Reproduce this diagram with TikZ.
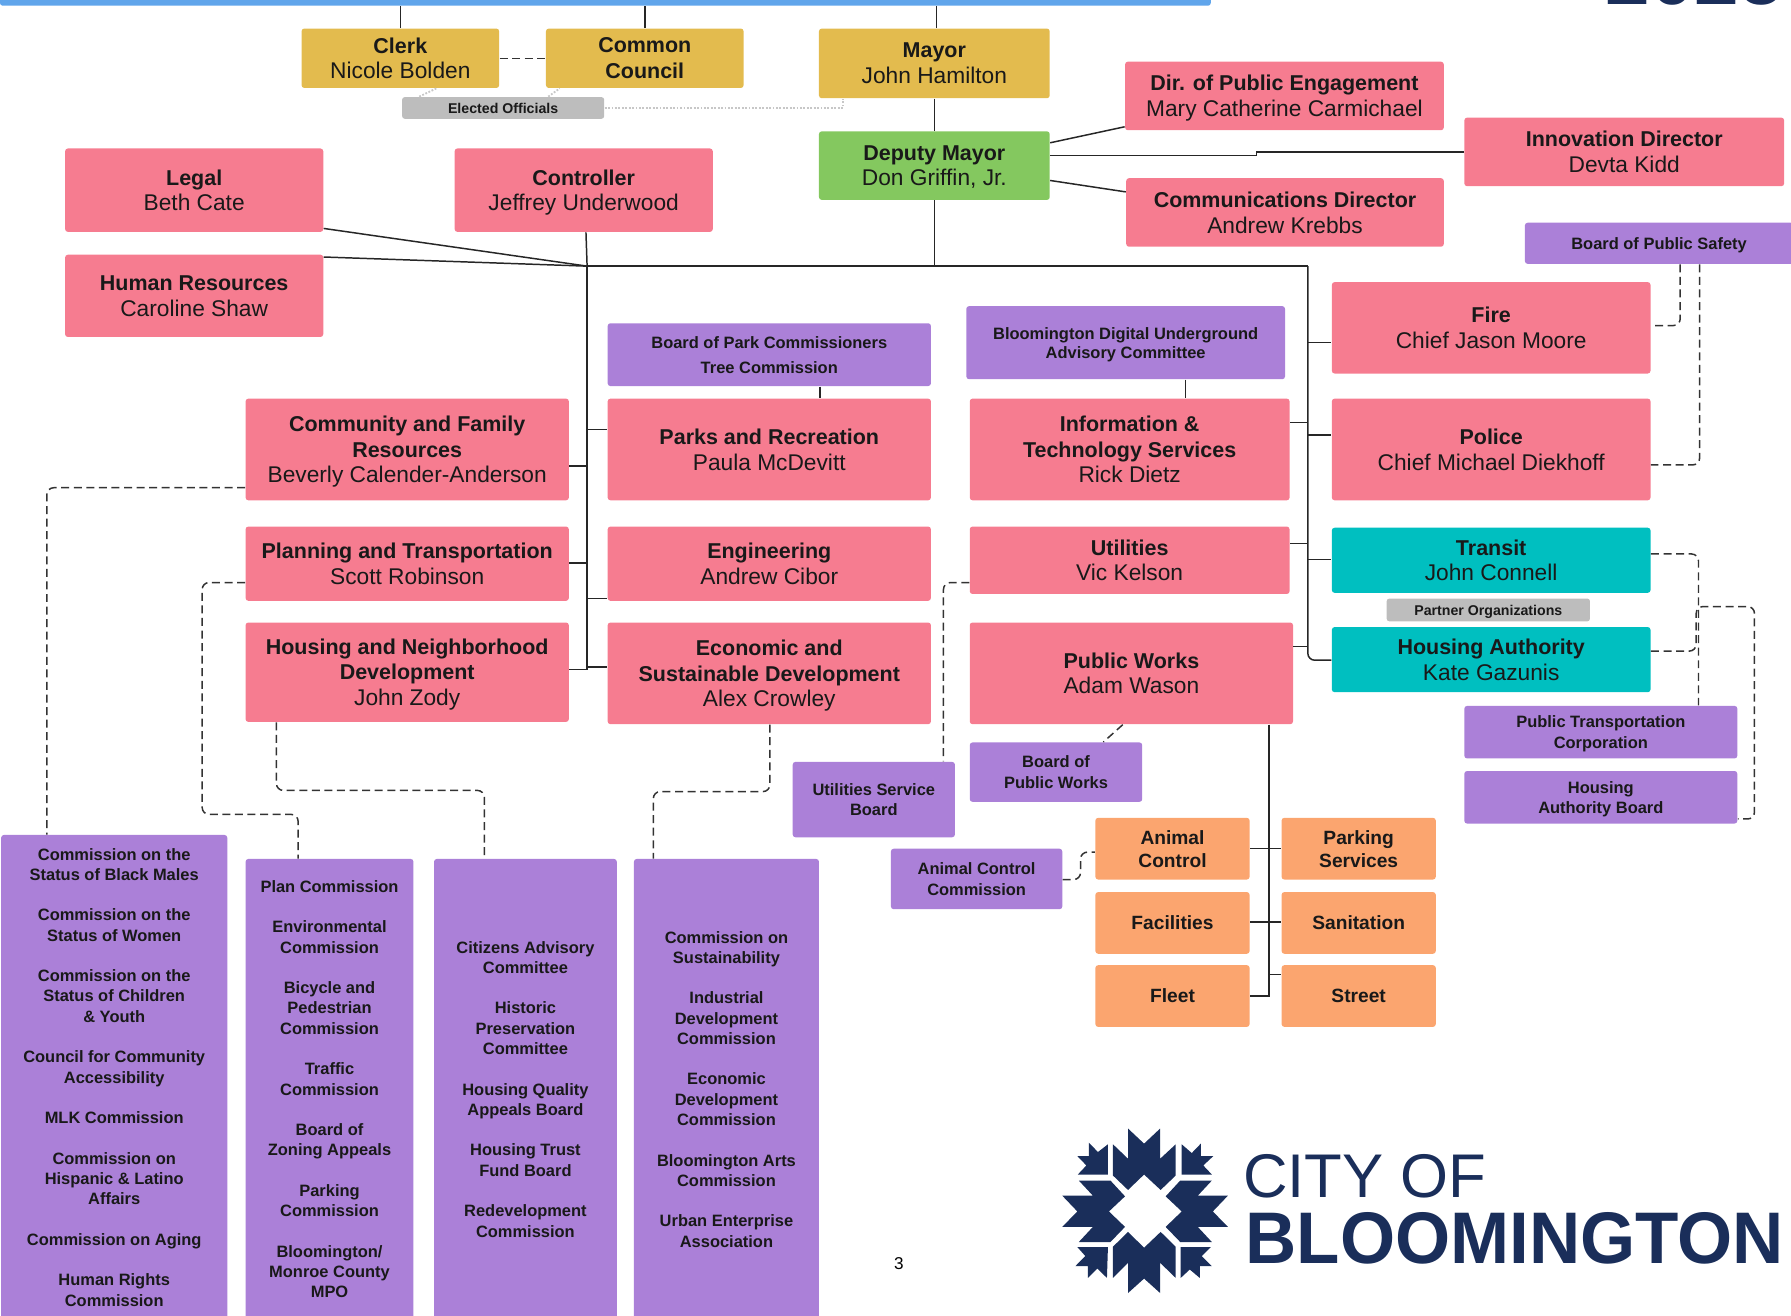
\documentclass[tikz,border=0pt]{standalone}
\usepackage{fontspec}
\setmainfont{Liberation Sans}
\definecolor{pinkb}{HTML}{F67C90}
\definecolor{goldb}{HTML}{E3BB4E}
\definecolor{greenb}{HTML}{84C85F}
\definecolor{purpb}{HTML}{AB80D8}
\definecolor{tealb}{HTML}{00BFC0}
\definecolor{orangeb}{HTML}{FBA56F}
\definecolor{grayb}{HTML}{BDBDBD}
\definecolor{blueb}{HTML}{60A5EB}
\definecolor{navyb}{HTML}{1A2E5A}
\newcommand\bx[7]{%
  \pgfmathsetmacro\bxw{(#5-#3)*0.5}%
  \pgfmathsetmacro\bxh{(#6-#4)*0.5}%
  \node[#2,minimum width=\bxw pt,minimum height=\bxh pt] (#1) at ({(#3+#5)/2},{(#4+#6)/2}) {#7};}
\newcommand\gp{\\[8.875pt]}
\newcommand\tb[1]{{\fontsize{9.4}{11.25}\selectfont\bfseries #1}}
\tikzset{
  basebox/.style={rounded corners=1.2pt,inner sep=0pt,align=center,text=black!90,text depth=0pt},
  main/.style={basebox,font=\fontsize{9.95}{11.25}\selectfont},
  pinkbox/.style={main,fill=pinkb},
  goldbox/.style={main,fill=goldb},
  greenbox/.style={main,fill=greenb},
  tealbox/.style={main,fill=tealb},
  purplebox/.style={basebox,fill=purpb,font=\fontsize{7.2}{8.875}\selectfont\bfseries},
  orangebox/.style={basebox,fill=orangeb,font=\fontsize{8.4}{10}\selectfont\bfseries},
  graybox/.style={basebox,fill=grayb,font=\fontsize{6.2}{7.5}\selectfont\bfseries},
  solidline/.style={draw=black!85,line width=0.65pt},
  dashline/.style={draw=black!80,line width=0.65pt,dash pattern=on 3.5pt off 2pt,rounded corners=3pt},
  dotline/.style={draw=black!22,line width=0.8pt,dash pattern=on 0.8pt off 0.7pt},
  logopart/.style={fill=navyb,draw=none},
}
\begin{document}
\begin{tikzpicture}[x=0.5pt,y=-0.5pt]
\useasboundingbox (0,0) rectangle (1568,1151.3);
\clip (0,0) rectangle (1568,1151.3);
% header remains
\node[anchor=base east,inner sep=0pt,text=navyb,font=\fontsize{35}{35}\selectfont\bfseries] (year) at (1562,4) {2025};
\bx{bar}{basebox,fill=blueb}{0}{-6}{1060}{5}{}
% elected
\bx{clerk}{goldbox}{264}{25}{437}{77}{\tb{Clerk}\\Nicole Bolden}
\bx{council}{goldbox}{478}{25}{651}{77}{\tb{Common}\\\tb{Council}}
\bx{mayor}{goldbox}{717}{25}{919}{86}{\tb{Mayor}\\John Hamilton}
\bx{elected}{graybox}{352}{85}{529}{104}{Elected Officials}
\bx{deputy}{greenbox}{717}{115}{919}{175}{\tb{Deputy Mayor}\\Don Griffin, Jr.}
% staff
\bx{dirpe}{pinkbox}{985}{54}{1264}{114}{\tb{Dir. of Public Engagement}\\Mary Catherine Carmichael}
\bx{innov}{pinkbox}{1282}{103}{1562}{163}{\tb{Innovation Director}\\Devta Kidd}
\bx{commdir}{pinkbox}{986}{156}{1264}{216}{\tb{Communications Director}\\Andrew Krebbs}
\bx{legal}{pinkbox}{57}{130}{283}{203}{\tb{Legal}\\Beth Cate}
\bx{controller}{pinkbox}{398}{130}{624}{203}{\tb{Controller}\\Jeffrey Underwood}
\bx{hr}{pinkbox}{57}{223}{283}{295}{\tb{Human Resources}\\Caroline Shaw}
\bx{bps}{purplebox}{1335}{195}{1570}{231}{Board of Public Safety}
\bx{fire}{pinkbox}{1166}{247}{1445}{327}{\tb{Fire}\\Chief Jason Moore}
\bx{police}{pinkbox}{1166}{349}{1445}{438}{\tb{Police}\\Chief Michael Diekhoff}
\bx{parkboard}{purplebox}{532}{283}{815}{338}{Board of Park Commissioners\\[2pt]Tree Commission}
\bx{bdu}{purplebox}{846}{268}{1125}{332}{Bloomington Digital Underground\\[-0.6pt]Advisory Committee}
\bx{cfr}{pinkbox}{215}{349}{498}{438}{\tb{Community and Family}\\\tb{Resources}\\Beverly Calender-Anderson}
\bx{parks}{pinkbox}{532}{349}{815}{438}{\tb{Parks and Recreation}\\Paula McDevitt}
\bx{its}{pinkbox}{849}{349}{1129}{438}{\tb{Information \&}\\\tb{Technology Services}\\Rick Dietz}
\bx{planning}{pinkbox}{215}{461}{498}{526}{\tb{Planning and Transportation}\\Scott Robinson}
\bx{eng}{pinkbox}{532}{461}{815}{526}{\tb{Engineering}\\Andrew Cibor}
\bx{util}{pinkbox}{849}{461}{1129}{520}{\tb{Utilities}\\Vic Kelson}
\bx{transit}{tealbox}{1166}{462}{1445}{519}{\tb{Transit}\\John Connell}
\bx{partner}{graybox}{1214}{524}{1392}{544}{Partner Organizations}
\bx{ha}{tealbox}{1166}{549}{1445}{606}{\tb{Housing Authority}\\Kate Gazunis}
\bx{housing}{pinkbox}{215}{545}{498}{632}{\tb{Housing and Neighborhood}\\\tb{Development}\\John Zody}
\bx{econ}{pinkbox}{532}{545}{815}{634}{\tb{Economic and}\\\tb{Sustainable Development}\\Alex Crowley}
\bx{pw}{pinkbox}{849}{545}{1132}{634}{\tb{Public Works}\\Adam Wason}
\bx{ptc}{purplebox}{1282}{618}{1521}{664}{Public Transportation\\Corporation}
\bx{hab}{purplebox}{1282}{675}{1521}{721}{Housing\\Authority Board}
\bx{boardpw}{purplebox}{849}{650}{1000}{702}{Board of\\Public Works}
\bx{usb}{purplebox}{694}{667}{836}{733}{Utilities Service\\Board}
\bx{acc}{purplebox}{780}{743}{930}{796}{Animal Control\\Commission}
\bx{animal}{orangebox}{959}{716}{1094}{770}{Animal\\Control}
\bx{parking}{orangebox}{1122}{716}{1257}{770}{Parking\\Services}
\bx{facilities}{orangebox}{959}{781}{1094}{835}{Facilities}
\bx{sanitation}{orangebox}{1122}{781}{1257}{835}{Sanitation}
\bx{fleet}{orangebox}{959}{845}{1094}{899}{Fleet}
\bx{street}{orangebox}{1122}{845}{1257}{899}{Street}
% commission columns
\bx{col1}{purplebox}{1}{731}{199}{1155}{Commission on the\\Status of Black Males\gp Commission on the\\Status of Women\gp Commission on the\\Status of Children\\\& Youth\gp Council for Community\\Accessibility\gp MLK Commission\gp Commission on\\Hispanic \& Latino\\Affairs\gp Commission on Aging\gp Human Rights\\Commission}
\bx{col2}{purplebox}{215}{752}{362}{1155}{Plan Commission\gp Environmental\\Commission\gp Bicycle and\\Pedestrian\\Commission\gp Traffic\\Commission\gp Board of\\Zoning Appeals\gp Parking\\Commission\gp Bloomington/\\Monroe County\\MPO}
\bx{col3}{purplebox}{380}{752}{540}{1155}{Citizens Advisory\\Committee\gp Historic\\Preservation\\Committee\gp Housing Quality\\Appeals Board\gp Housing Trust\\Fund Board\gp Redevelopment\\Commission}
\bx{col4}{purplebox}{555}{752}{717}{1155}{Commission on\\Sustainability\gp Industrial\\Development\\Commission\gp Economic\\Development\\Commission\gp Bloomington Arts\\Commission\gp Urban Enterprise\\Association}
% junctions
\coordinate (busL) at (514,233);
\coordinate (busM) at (818,233);
\coordinate (busR) at (1145,233);
% top bar
\draw[solidline] (clerk.north) -- (clerk.north |- bar.south);
\draw[solidline] (council.north) -- (council.north |- bar.south);
\draw[solidline] (mayor.north -| 820,0) -- (bar.south -| 820,0);
\draw[dashline] (clerk.east) -- (council.west);
\draw[dotline] (elected.east) -- (738,94.5) -- (mayor.south -| 738,0);
\draw[dotline] (elected.north -| 367,0) -- (clerk.south -| 382,0);
\draw[dotline] (elected.north -| 480,0) -- (council.south -| 490,0);
% deputy
\draw[solidline] (mayor.south) -- (deputy.north);
\draw[solidline] (deputy.east |- 0,125) -- (dirpe.west |- 0,111);
\draw[solidline] (deputy.east |- 0,136) -- (1100,136) -- (1100,133) -- (innov.west |- 0,133);
\draw[solidline] (deputy.east |- 0,158) -- (commdir.west |- 0,168);
\draw[solidline] (deputy.south) -- (busM);
\draw[solidline] (busL) -- (busR);
\draw[solidline] (controller.south -| 513,0) -- (busL);
\draw[solidline] (legal.east |- 0,200) -- (busL);
\draw[solidline] (hr.east |- 0,225) -- (busL);
% left spine
\draw[solidline] (busL) -- (514,586);
\draw[solidline] (514,376) -- (parks.west |- 0,376);
\draw[solidline] (cfr.east |- 0,408) -- (514,408);
\draw[solidline] (planning.east |- 0,493) -- (514,493);
\draw[solidline] (514,524) -- (eng.west |- 0,524);
\draw[solidline] (housing.east |- 0,586) -- (514,586) -- (514,584) -- (econ.west |- 0,584);
% right spine
\draw[solidline,rounded corners=3pt] (busR) -- (1145,578) -- (ha.west |- 0,578);
\draw[solidline] (1145,300) -- (fire.west |- 0,300);
\draw[solidline] (its.east |- 0,370) -- (1145,370);
\draw[solidline] (1145,381) -- (police.west |- 0,381);
\draw[solidline] (util.east |- 0,476) -- (1145,476);
\draw[solidline] (1145,490) -- (transit.west |- 0,490);
\draw[solidline] (pw.east |- 0,566) -- (1145,566);
% advisory links
\draw[solidline] (parkboard.south -| 718,0) -- (parks.north -| 718,0);
\draw[solidline] (bdu.south -| 1038,0) -- (its.north -| 1038,0);
\draw[dashline] (bps.south -| 1471,0) -- (1471,285) -- (fire.east |- 0,285);
\draw[dashline] (bps.south -| 1488,0) -- (1488,407) -- (police.east |- 0,407);
\draw[dashline] (transit.east |- 0,485) -- (1487,485) -- (ptc.north -| 1487,0);
\draw[dashline] (ha.east |- 0,570) -- (1485,570) -- (1485,531) -- (1536,531) -- (1536,717) -- (hab.east |- 0,717);
\draw[dashline] (util.west |- 0,510) -- (826,510) -- (usb.north -| 826,0);
\draw[dashline] (pw.south -| 983,0) -- (boardpw.north -| 966,0);
\draw[dashline] (acc.east |- 0,770) -- (946,770) -- (946,746) -- (animal.west |- 0,746);
\draw[dashline] (cfr.west |- 0,427) -- (41,427) -- (col1.north -| 41,0);
\draw[dashline] (planning.west |- 0,510) -- (177,510) -- (177,713) -- (261,713) -- (col2.north -| 261,0);
\draw[dashline] (housing.south -| 242,0) -- (242,692) -- (424,692) -- (col3.north -| 424,0);
\draw[dashline] (econ.south -| 674,0) -- (674,693) -- (572,693) -- (col4.north -| 572,0);
% public works tree
\coordinate (pwEnd) at (1111,873);
\draw[solidline] (pw.south -| 1111,0) -- (pwEnd);
\draw[solidline] (animal.east |- 0,743) -- (parking.west |- 0,743);
\draw[solidline] (facilities.east |- 0,807) -- (1111,807);
\draw[solidline] (1111,807) -- (sanitation.west |- 0,807);
\draw[solidline] (fleet.east |- 0,872) -- (1111,872);
\draw[solidline] (1111,853) -- (street.west |- 0,853);
% page number
\node[inner sep=0pt,font=\fontsize{7.5}{9}\selectfont] (pagenum) at (787,1106) {3};
% logo
\begin{scope}[shift={(930,988)},x=0.2197pt,y=-0.14695pt,shift={(-122,-145)}]
\fill[logopart] (223,192)--(253,235)--(253,145)--(285,190)--(317,145)--(317,235)--(348,192)--(348,285)--(318,328)--(285,282)--(253,328)--(223,285)--cycle;
\fill[logopart] (223,590)--(253,545)--(253,635)--(285,592)--(317,635)--(317,545)--(348,590)--(348,497)--(318,453)--(285,500)--(253,453)--(223,497)--cycle;
\fill[logopart] (155,300)--(218,300)--(247,347)--(215,392)--(247,438)--(218,483)--(155,483)--(183,438)--(122,438)--(152,392)--(122,345)--(183,345)--cycle;
\fill[logopart] (420,300)--(357,300)--(328,347)--(360,392)--(328,438)--(357,483)--(420,483)--(392,438)--(452,438)--(422,392)--(452,345)--(392,345)--cycle;
\fill[logopart] (175,187)--(193,215)--(213,192)--(213,282)--(153,282)--(170,255)--(152,227)--(175,227)--cycle;
\fill[logopart] (398,190)--(380,218)--(360,192)--(360,282)--(420,282)--(403,255)--(423,227)--(398,227)--cycle;
\fill[logopart] (213,498)--(152,498)--(168,525)--(148,555)--(173,555)--(173,590)--(192,562)--(211,590)--cycle;
\fill[logopart] (358,498)--(418,498)--(400,525)--(420,555)--(396,555)--(396,590)--(376,565)--(358,590)--cycle;
\end{scope}
\node[anchor=base west,inner sep=0pt,text=navyb,font=\fontsize{27}{27}\selectfont] (cityof) at (1088,1048) {CITY OF};
\node[anchor=base west,inner sep=0pt,text=navyb,font=\fontsize{32}{32}\selectfont\bfseries] (bloom) at (1090,1106) {\scalebox{0.97}[1]{BLOOMINGTON}};
\end{tikzpicture}
\end{document}
